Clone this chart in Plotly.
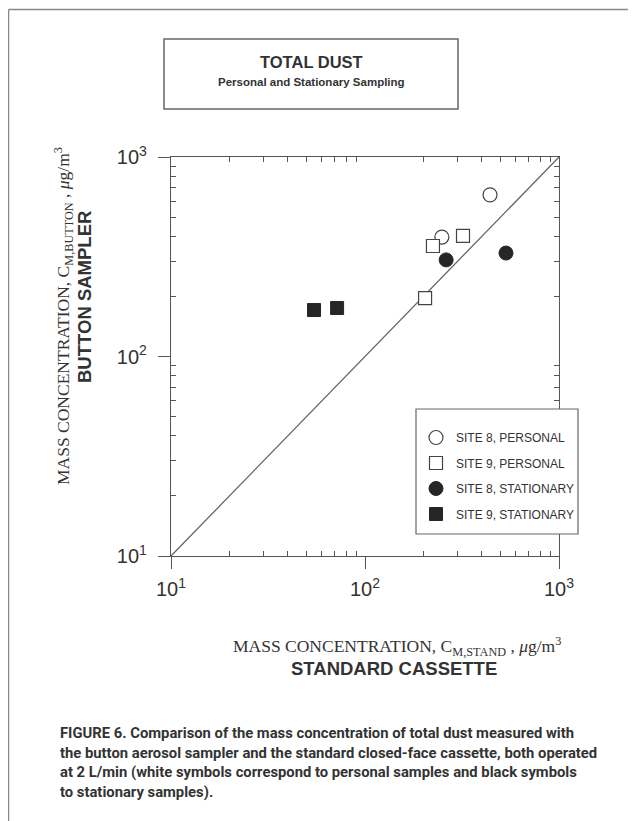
import plotly.graph_objects as go

# ---------------- data ----------------
site8_personal_x = [441, 249]
site8_personal_y = [646, 397]
site9_personal_x = [224, 320, 204]
site9_personal_y = [358, 402, 196]
site8_stationary_x = [262, 533]
site8_stationary_y = [305, 330]
site9_stationary_x = [54.6, 71.8]
site9_stationary_y = [171, 175]
identity_line = [10, 1000]

tick_vals = [10, 100, 1000]
tick_text = ["10<sup>1</sup>", "10<sup>2</sup>", "10<sup>3</sup>"]
minor_vals = [k * d for d in (10, 100) for k in range(2, 10)]

title_main = "TOTAL DUST"
title_sub = "Personal and Stationary Sampling"
y_label_1 = "MASS CONCENTRATION, C<sub>M,BUTTON</sub> , <i>μ</i>g/m<sup>3</sup>"
y_label_2 = "BUTTON SAMPLER"
x_label_1 = "MASS CONCENTRATION, C<sub>M,STAND</sub> , <i>μ</i>g/m<sup>3</sup>"
x_label_2 = "STANDARD CASSETTE"
caption_lines = [
    "FIGURE 6. Comparison of the mass concentration of total dust measured with",
    "the button aerosol sampler and the standard closed-face cassette, both operated",
    "at 2 L/min (white symbols correspond to personal samples and black symbols",
    "to stationary samples).",
]

# ---------------- layout helpers (reference pixel coordinates) ----------------
OFF = 8                      # page body margin
W, H = 636 - OFF, 821 - OFF
PL, PR, PT, PB = 171, 559, 157, 556


def px(x):
    return (x - PL) / (PR - PL)


def py(y):
    return (PB - y) / (PB - PT)


TXT = "#333333"
LINE = "#555555"
SANS = "Liberation Sans, Arial, sans-serif"
SERIF = "Liberation Serif, Times New Roman, serif"

fig = go.Figure()

fig.add_trace(go.Scatter(
    x=identity_line, y=identity_line, mode="lines",
    line=dict(color="#666666", width=1.3), showlegend=False, hoverinfo="skip"))

open_line = dict(color="#444444", width=1.2)
fig.add_trace(go.Scatter(
    x=site8_personal_x, y=site8_personal_y, mode="markers", name="SITE 8, PERSONAL",
    legendgroup="a",
    marker=dict(symbol="circle", size=14, color="white", line=open_line)))
fig.add_trace(go.Scatter(
    x=site9_personal_x, y=site9_personal_y, mode="markers", name="SITE 9, PERSONAL",
    legendgroup="b",
    marker=dict(symbol="square", size=13, color="white", line=open_line)))
fig.add_trace(go.Scatter(
    x=site8_stationary_x, y=site8_stationary_y, mode="markers", name="SITE 8, STATIONARY",
    legendgroup="c",
    marker=dict(symbol="circle", size=14, color="#262626", line=dict(color="#262626", width=1))))
fig.add_trace(go.Scatter(
    x=site9_stationary_x, y=site9_stationary_y, mode="markers", name="SITE 9, STATIONARY",
    legendgroup="d",
    marker=dict(symbol="square", size=13, color="#262626", line=dict(color="#262626", width=1))))

minor_inside = dict(tickmode="array", tickvals=minor_vals, ticks="inside",
                    ticklen=5, tickwidth=1, tickcolor=LINE)
axis_common = dict(
    type="log", range=[1, 3], showgrid=False, zeroline=False,
    showline=True, linecolor=LINE, linewidth=1.3, mirror=True,
    tickmode="array", tickvals=tick_vals, ticktext=tick_text,
    ticks="outside", ticklen=12, tickwidth=1.2, tickcolor=LINE,
    tickfont=dict(family=SANS, size=20, color=TXT),
    minor=minor_inside,
)
mirror_common = dict(type="log", range=[1, 3], showgrid=False, zeroline=False,
                     showline=False, showticklabels=False, ticks="",
                     tickmode="array", tickvals=tick_vals, minor=minor_inside)
fig.update_layout(
    xaxis=dict(**axis_common, ticklabelstandoff=3),
    yaxis=dict(**axis_common, ticklabelstandoff=7),
    xaxis2=dict(**mirror_common, overlaying="x", side="top", anchor="y"),
    yaxis2=dict(**mirror_common, overlaying="y", side="right", anchor="x"),
)
# invisible trace so the mirrored minor ticks are drawn
fig.add_trace(go.Scatter(x=identity_line, y=identity_line, xaxis="x2", yaxis="y2",
                         mode="lines", line=dict(width=0), opacity=0,
                         showlegend=False, hoverinfo="skip"))

shapes = [
    # outer page frame (left and top edges)
    dict(type="line", xref="paper", yref="paper", x0=px(8.5), x1=px(645), y0=py(9.5), y1=py(9.5),
         line=dict(color="#888888", width=1.5)),
    dict(type="line", xref="paper", yref="paper", x0=px(8.5), x1=px(8.5), y0=py(9.5), y1=py(830),
         line=dict(color="#888888", width=1.5)),
    # title box
    dict(type="rect", xref="paper", yref="paper", x0=px(164), x1=px(458), y0=py(109), y1=py(39),
         line=dict(color="#666666", width=1.5), fillcolor="white"),
    # legend box
    dict(type="rect", xref="paper", yref="paper", x0=px(416), x1=px(578), y0=py(534), y1=py(409),
         line=dict(color="#666666", width=1.2), fillcolor="white", layer="above"),
]

annotations = [
    dict(text="<b>" + title_main + "</b>", x=px(311), y=py(62), font=dict(family=SANS, size=16.5, color=TXT)),
    dict(text="<b>" + title_sub + "</b>", x=px(311), y=py(82), font=dict(family=SANS, size=11.5, color=TXT)),
    dict(text=y_label_1, x=px(63), y=py(316), textangle=-90, font=dict(family=SERIF, size=17.5, color=TXT)),
    dict(text="<b>" + y_label_2 + "</b>", x=px(84), y=py(297), textangle=-90, font=dict(family=SANS, size=18.5, color=TXT)),
    dict(text=x_label_1, x=px(397), y=py(646), font=dict(family=SERIF, size=17.5, color=TXT)),
    dict(text="<b>" + x_label_2 + "</b>", x=px(394), y=py(668), font=dict(family=SANS, size=18.5, color=TXT)),
]
for i, line in enumerate(caption_lines):
    annotations.append(dict(text="<b>" + line + "</b>", x=px(58), y=py(733 + 19.5 * i),
                            xanchor="left", align="left",
                            font=dict(family="Roboto, sans-serif", size=14.8, color=TXT)))
for a in annotations:
    a.setdefault("xref", "paper")
    a.setdefault("yref", "paper")
    a.setdefault("xanchor", "center")
    a.setdefault("yanchor", "middle")
    a.setdefault("showarrow", False)

fig.update_layout(
    width=W, height=H,
    margin=dict(l=PL - OFF, r=636 - PR, t=PT - OFF, b=821 - PB, pad=0),
    paper_bgcolor="white", plot_bgcolor="white",
    shapes=shapes, annotations=annotations,
    showlegend=True,
    legend=dict(x=px(416), y=py(423), xanchor="left", yanchor="top",
                bgcolor="rgba(0,0,0,0)", borderwidth=0,
                font=dict(family=SANS, size=12, color=TXT),
                tracegroupgap=6.5, traceorder="grouped"),
)

fig.write_html("out.html")
